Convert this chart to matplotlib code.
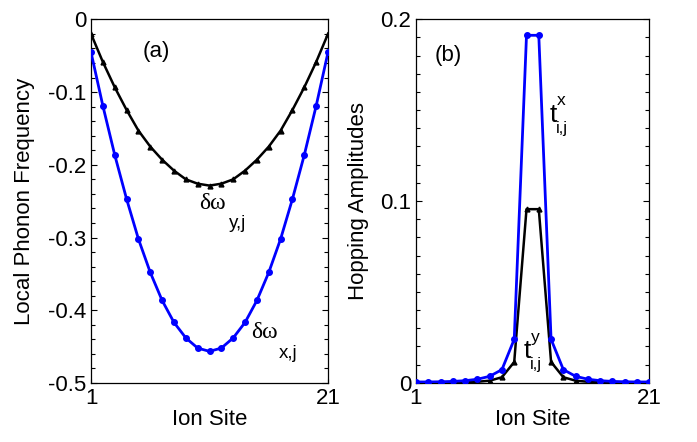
import numpy as np
import matplotlib
matplotlib.use("Agg")
import matplotlib.pyplot as plt
from matplotlib.ticker import MultipleLocator

plt.rcParams['font.family'] = ['Liberation Sans', 'DejaVu Sans']

# ---- data ----
sites = np.arange(1, 22)
dw_y = [-0.020, -0.0587, -0.0934, -0.1246, -0.153, -0.175, -0.193, -0.208, -0.220, -0.226, -0.2286,
        -0.226, -0.220, -0.208, -0.193, -0.175, -0.153, -0.1246, -0.0934, -0.0587, -0.020]
dw_x = [-0.0454, -0.119, -0.1864, -0.247, -0.302, -0.348, -0.3865, -0.4167, -0.438, -0.452, -0.4565,
        -0.452, -0.438, -0.4167, -0.3865, -0.348, -0.302, -0.247, -0.1864, -0.119, -0.0454]

bonds = np.linspace(1, 21, 20)
t_x = [0.0004, 0.0004, 0.0005, 0.0007, 0.0011, 0.0019, 0.0035, 0.0072, 0.0239, 0.1912,
       0.1912, 0.0239, 0.0072, 0.0035, 0.0019, 0.0011, 0.0007, 0.0005, 0.0004, 0.0004]
t_y = [0.0002, 0.0002, 0.0002, 0.0002, 0.0003, 0.0005, 0.0011, 0.0030, 0.0114, 0.0955,
       0.0955, 0.0114, 0.0030, 0.0011, 0.0005, 0.0003, 0.0002, 0.0002, 0.0002, 0.0002]

BLUE = '#0000ff'
FS = 16
SERIF = ['Liberation Serif', 'DejaVu Serif']

fig = plt.figure(figsize=(6.97, 4.42), dpi=100)
ax1 = fig.add_axes([0.1306, 0.1335, 0.3400, 0.8228])
ax2 = fig.add_axes([0.5968, 0.1342, 0.3348, 0.8221])

for ax in (ax1, ax2):
    ax.tick_params(which='both', direction='in', left=True, right=True, top=False,
                   labelsize=FS, width=0.8)
    ax.tick_params(which='major', length=4)
    ax.tick_params(which='minor', length=3)
    ax.tick_params(axis='x', length=3)
    for s in ax.spines.values():
        s.set_linewidth(0.9)
    ax.set_xlim(1, 21)
    ax.set_xticks([1, 21])
    ax.set_xlabel('Ion Site', fontsize=FS, labelpad=0)

# left panel
ax1.plot(sites, dw_y, color='black', lw=1.8, marker='^', ms=3.5, zorder=3)
ax1.plot(sites, dw_x, color=BLUE, lw=2.0, marker='o', ms=4, zorder=3)
ax1.set_ylim(-0.5, 0)
ax1.yaxis.set_minor_locator(MultipleLocator(0.02))
ax1.set_yticks([-0.5, -0.4, -0.3, -0.2, -0.1, 0])
ax1.set_yticklabels(['-0.5', '-0.4', '-0.3', '-0.2', '-0.1', '0'])
ax1.set_ylabel('Local Phonon Frequency', fontsize=FS, labelpad=9)
ax1.text(6.54, -0.0445, '(a)', fontsize=FS, ha='center', va='center')
ax1.text(10.15, -0.2606, 'δω', family=SERIF, fontsize=17, ha='left', va='baseline')
ax1.text(12.62, -0.2865, 'y,j', fontsize=13.5, ha='left', va='baseline')
ax1.text(14.50, -0.4385, 'δω', family=SERIF, fontsize=17, ha='left', va='baseline')
ax1.text(16.84, -0.4650, 'x,j', fontsize=13.5, ha='left', va='baseline')

# right panel
ax2.plot(bonds, t_y, color='black', lw=1.8, marker='^', ms=3.5, zorder=3)
ax2.plot(bonds, t_x, color=BLUE, lw=2.0, marker='o', ms=4, zorder=3)
ax2.set_ylim(0, 0.2)
ax2.set_yticks([0, 0.1, 0.2])
ax2.set_yticklabels(['0', '0.1', '0.2'])
ax2.yaxis.set_minor_locator(MultipleLocator(0.01))
ax2.set_ylabel('Hopping Amplitudes', fontsize=FS, labelpad=8)
ax2.text(3.74, 0.180, '(b)', fontsize=FS, ha='center', va='center')
ax2.text(12.43, 0.1436, 't', fontsize=19, ha='left', va='baseline')
ax2.text(13.06, 0.1528, 'x', fontsize=12.5, ha='left', va='baseline')
ax2.text(12.97, 0.1377, 'i,j', fontsize=12, ha='left', va='baseline')
ax2.text(10.20, 0.0134, 't', fontsize=19, ha='left', va='baseline')
ax2.text(10.83, 0.0226, 'y', fontsize=12.5, ha='left', va='baseline')
ax2.text(10.75, 0.0075, 'i,j', fontsize=12, ha='left', va='baseline')

fig.savefig('out.png', dpi=100)
